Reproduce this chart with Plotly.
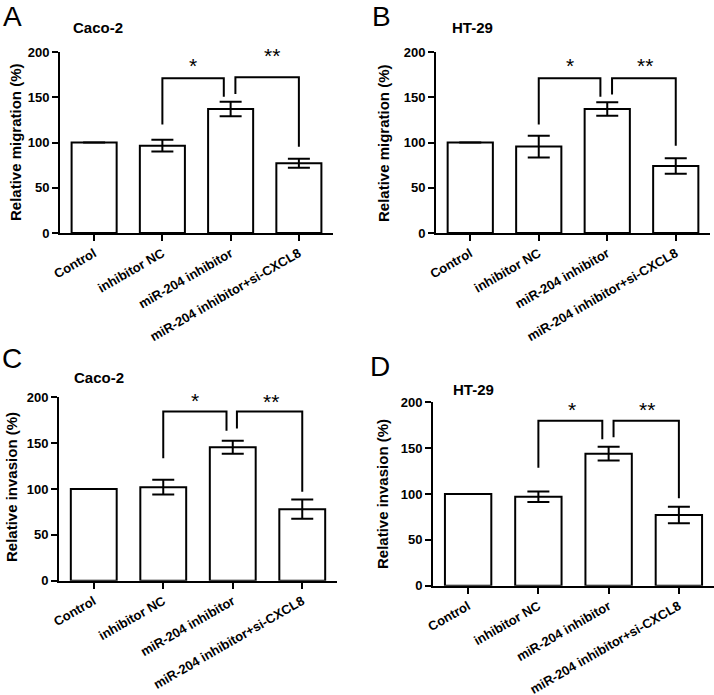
import plotly.graph_objects as go

W, H = 714, 695

categorias = ["Control", "inhibitor NC", "miR-204 inhibitor", "miR-204 inhibitor+si-CXCL8"]

# valores (média e erro)
migracao_caco2 = [100, 96.5, 137, 77]
erro_migracao_caco2 = [0, 6.5, 8, 5]
migracao_ht29 = [100, 95.5, 137, 74]
erro_migracao_ht29 = [0, 12, 7.5, 8.5]
invasao_caco2 = [100, 102, 145.5, 78]
erro_invasao_caco2 = [0, 8, 7, 10.5]
invasao_ht29 = [100, 97, 144, 77]
erro_invasao_ht29 = [0, 5.7, 7.6, 9]

# colchetes de significância: (x_esq, x_dir, y_topo, y_esq, y_dir)
colchetes_a = [(1, 1.9, 171, 120, 150.6), (2.07, 3, 172, 153.6, 95.4)]
colchetes_b = [(1, 1.9, 171, 120, 150.6), (2.07, 3, 171, 153, 96.5)]
colchetes_c = [(1, 1.91, 184.4, 133.5, 163.6), (2.06, 3, 184.4, 166, 97)]
colchetes_d = [(1, 1.91, 180, 128.7, 159.7), (2.07, 3, 180, 162, 95.3)]
estrelas_a = [(1.45, 185, "*"), (2.6, 196, "**")]
estrelas_b = [(1.45, 185, "*"), (2.55, 185, "**")]
estrelas_c = [(1.45, 197, "*"), (2.55, 195, "**")]
estrelas_d = [(1.48, 192, "*"), (2.55, 192, "**")]

# letras: (x centro, topo da caixa) em px
paineis = [
    dict(letra="A", titulo="Caco-2", ylabel="Relative migration (%)", y=migracao_caco2, e=erro_migracao_caco2,
         col=colchetes_a, est=estrelas_a, px=(60, 333), py=(233, 52), pos_letra=(12, 0), pos_titulo=(98, 27),
         pos_ylabel=(15, 142)),
    dict(letra="B", titulo="HT-29", ylabel="Relative migration (%)", y=migracao_ht29, e=erro_migracao_ht29,
         col=colchetes_b, est=estrelas_b, px=(436, 710), py=(233, 52), pos_letra=(381, 0), pos_titulo=(472, 27),
         pos_ylabel=(383, 143)),
    dict(letra="C", titulo="Caco-2", ylabel="Relative invasion (%)", y=invasao_caco2, e=erro_invasao_caco2,
         col=colchetes_c, est=estrelas_c, px=(59, 337), py=(580.7, 397.3), pos_letra=(12, 342), pos_titulo=(99, 377),
         pos_ylabel=(11, 487)),
    dict(letra="D", titulo="HT-29", ylabel="Relative invasion (%)", y=invasao_ht29, e=erro_invasao_ht29,
         col=colchetes_d, est=estrelas_d, px=(433, 714), py=(585.7, 402.3), pos_letra=(380, 350), pos_titulo=(473, 389),
         pos_ylabel=(382, 494)),
]

FONTE = "Arial, Liberation Sans, sans-serif"

fig = go.Figure()
anotacoes = []
formas = []

for i, p in enumerate(paineis):
    n = "" if i == 0 else str(i + 1)
    xa, ya = "x" + n, "y" + n
    fig.add_trace(go.Bar(
        x=categorias, y=p["y"], xaxis=xa, yaxis=ya,
        marker=dict(color="white", line=dict(color="black", width=2)),
        error_y=dict(type="data", array=p["e"], visible=True, color="black", thickness=2, width=11),
        showlegend=False, cliponaxis=False,
    ))
    dom_x = [p["px"][0] / W, p["px"][1] / W]
    dom_y = [1 - p["py"][0] / H, 1 - p["py"][1] / H]
    fig.layout["xaxis" + n] = dict(
        domain=dom_x, anchor=ya, range=[-0.5, 3.5], showline=True, linecolor="black", linewidth=2,
        ticks="outside", ticklen=6, tickwidth=2, tickcolor="black", tickangle=-30, automargin=False,
        tickfont=dict(family=FONTE, size=13, color="black", weight="bold"), showgrid=False, fixedrange=True,
    )
    fig.layout["yaxis" + n] = dict(
        domain=dom_y, anchor=xa, range=[0, 200], tickvals=[0, 50, 100, 150, 200], showline=True,
        linecolor="black", linewidth=2, ticks="outside", ticklen=6, tickwidth=2, tickcolor="black",
        tickfont=dict(family=FONTE, size=13, color="black", weight="bold"), showgrid=False, zeroline=False,
        automargin=False, fixedrange=True,
    )
    for (x0, x1, yt, yl, yr) in p["col"]:
        formas.append(dict(type="path", xref=xa, yref=ya,
                           path=f"M {x0} {yl} L {x0} {yt} L {x1} {yt} L {x1} {yr}",
                           line=dict(color="black", width=2)))
    for (xs, ys, txt) in p["est"]:
        anotacoes.append(dict(x=xs, y=ys, xref=xa, yref=ya, text=txt, showarrow=False,
                              font=dict(family=FONTE, size=21, color="black")))
    anotacoes.append(dict(x=p["pos_letra"][0] / W, y=1 - p["pos_letra"][1] / H, xref="paper", yref="paper",
                          xanchor="center", yanchor="top", text=p["letra"], showarrow=False, borderpad=0,
                          font=dict(family=FONTE, size=28, color="black")))
    anotacoes.append(dict(x=p["pos_titulo"][0] / W, y=1 - p["pos_titulo"][1] / H, xref="paper", yref="paper",
                          xanchor="center", yanchor="middle", text=p["titulo"], showarrow=False,
                          font=dict(family=FONTE, size=15, color="black", weight="bold")))
    anotacoes.append(dict(x=p["pos_ylabel"][0] / W, y=1 - p["pos_ylabel"][1] / H, xref="paper", yref="paper",
                          xanchor="center", yanchor="middle", text=p["ylabel"], textangle=-90, showarrow=False,
                          font=dict(family=FONTE, size=15, color="black", weight="bold")))

fig.update_layout(
    width=W, height=H, margin=dict(l=0, r=0, t=0, b=0),
    paper_bgcolor="white", plot_bgcolor="white", bargap=0.34,
    annotations=anotacoes, shapes=formas,
)

# a página padrão tem margem de 8px no body
fig.write_html("out.html", config={"displayModeBar": False},
               post_script="document.body.style.margin='0';")
